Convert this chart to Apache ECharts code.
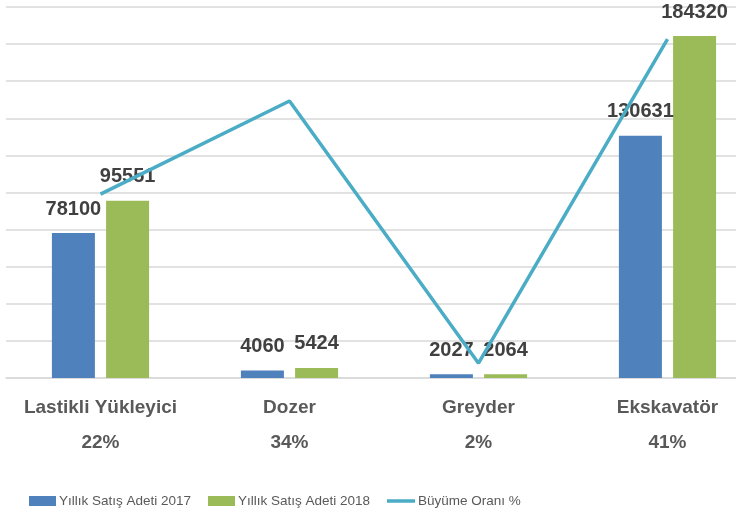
<!DOCTYPE html>
<html>
<head>
<meta charset="utf-8">
<script src="https://cdn.jsdelivr.net/npm/echarts@6/dist/echarts.min.js"></script>
<style>
html,body{margin:0;padding:0;background:#fff;}
#chart{width:736px;height:511px;}
</style>
</head>
<body>
<div id="chart"></div>
<script>
const categories = ['Lastikli Yükleyici', 'Dozer', 'Greyder', 'Ekskavatör'];
const growthLabels = ['22%', '34%', '2%', '41%'];
const sales2017 = [78100, 4060, 2027, 130631];
const sales2018 = [95551, 5424, 2064, 184320];
const growthRate = [22.3, 33.6, 1.8, 41.1];
const seriesNames = ['Yıllık Satış Adeti 2017', 'Yıllık Satış Adeti 2018', 'Büyüme Oranı %'];

const chart = echarts.init(document.getElementById('chart'), null, {renderer: 'canvas'});
const font = 'Liberation Sans, Arial, sans-serif';
const barLabel = {
  show: true, position: 'top', distance: 14,
  color: '#404040', fontFamily: font, fontWeight: 'bold', fontSize: 20
};
const legendBase = {
  top: 489, itemWidth: 27, itemHeight: 10, itemGap: 0,
  textStyle: {color: '#595959', fontFamily: font, fontSize: 13.5, padding: [0, 0, 0, -2]}
};
chart.setOption({
  animation: false,
  backgroundColor: '#ffffff',
  grid: {left: 6, top: 7, width: 756, height: 371, outerBoundsMode: 'none', containLabel: false},
  legend: [
    Object.assign({}, legendBase, {left: 24, data: [{name: seriesNames[0], icon: 'rect'}]}),
    Object.assign({}, legendBase, {left: 203, data: [{name: seriesNames[1], icon: 'rect'}]}),
    Object.assign({}, legendBase, {left: 382, itemWidth: 28, itemHeight: 3.5,
      data: [{name: seriesNames[2], icon: 'rect', itemStyle: {color: '#4bacc6'}}]})
  ],
  xAxis: {
    type: 'category',
    data: categories,
    axisLine: {show: true, lineStyle: {color: '#d9d9d9', width: 1.5}},
    axisTick: {show: false},
    axisLabel: {
      interval: 0, hideOverlap: false,
      margin: 12,
      color: '#595959', fontFamily: font, fontWeight: 'bold', fontSize: 19, lineHeight: 35,
      formatter: function (v, i) { return v + '\n' + growthLabels[i]; }
    }
  },
  yAxis: [
    {
      type: 'value', min: 0, max: 200000, interval: 20000,
      axisLabel: {show: false}, axisLine: {show: false}, axisTick: {show: false},
      splitLine: {lineStyle: {color: '#d9d9d9', width: 1.5}}
    },
    {
      type: 'value', min: 0, max: 45, show: false,
      splitLine: {show: false}
    }
  ],
  series: [
    {
      name: seriesNames[0], type: 'bar', data: sales2017,
      barWidth: 43, barGap: '26%',
      itemStyle: {color: '#4f81bd'}, label: barLabel
    },
    {
      name: seriesNames[1], type: 'bar', data: sales2018,
      barWidth: 43, barGap: '26%',
      itemStyle: {color: '#9bbb59'}, label: barLabel
    },
    {
      name: seriesNames[2], type: 'line', yAxisIndex: 1, data: growthRate,
      showSymbol: false, symbol: 'none',
      lineStyle: {color: '#4bacc6', width: 3.5},
      itemStyle: {color: '#4bacc6'},
      z: 3
    }
  ]
});
</script>
</body>
</html>
